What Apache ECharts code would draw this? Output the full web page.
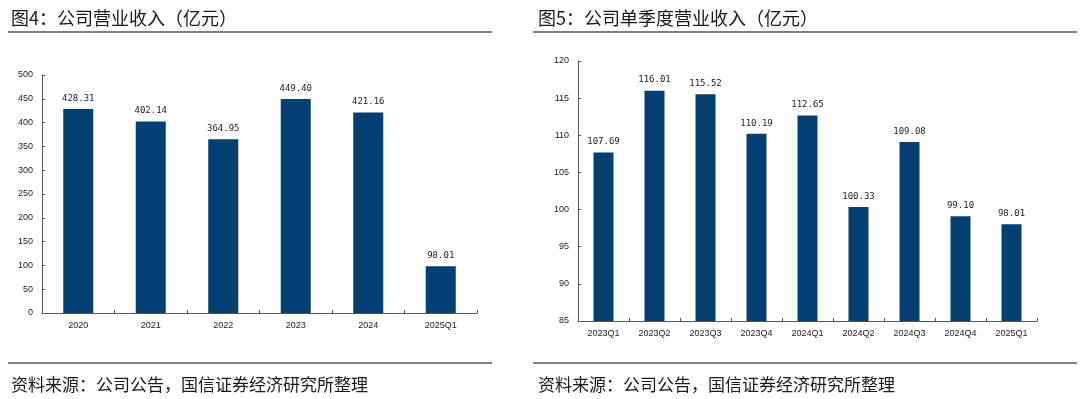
<!DOCTYPE html>
<html>
<head>
<meta charset="utf-8">
<script src="https://cdn.jsdelivr.net/npm/echarts@6/dist/echarts.min.js"></script>
<style>
  html, body { margin: 0; padding: 0; background: #fff; }
  #main { width: 1080px; height: 399px; }
</style>
</head>
<body>
<div id="main"></div>
<script>
var yearCats = ['2020', '2021', '2022', '2023', '2024', '2025Q1'];
var yearRevenue = [428.31, 402.14, 364.95, 449.40, 421.16, 98.01];

var quarterCats = ['2023Q1', '2023Q2', '2023Q3', '2023Q4', '2024Q1', '2024Q2', '2024Q3', '2024Q4', '2025Q1'];
var quarterRevenue = [107.69, 116.01, 115.52, 110.19, 112.65, 100.33, 109.08, 99.10, 98.01];

var barColor = '#023F73';
var cjk = '"Noto Sans CJK SC", "Noto Sans", sans-serif';

var myChart = echarts.init(document.getElementById('main'));

function xAxisFor(idx, cats) {
    return {
        type: 'category',
        gridIndex: idx,
        data: cats,
        axisLine: { lineStyle: { color: '#555', width: 1 } },
        axisTick: { show: true, inside: true, length: 3, lineStyle: { color: '#555' } },
        axisLabel: { color: '#222', fontSize: 9, fontFamily: 'Liberation Sans, Arial', margin: 8 }
    };
}

function yAxisFor(idx, min, max, interval) {
    return {
        type: 'value',
        gridIndex: idx,
        min: min,
        max: max,
        interval: interval,
        splitLine: { show: false },
        axisLine: { show: true, lineStyle: { color: '#555', width: 1 } },
        axisTick: { show: true, inside: true, length: 3, lineStyle: { color: '#555' } },
        axisLabel: { color: '#222', fontSize: 9, fontFamily: 'Liberation Sans, Arial', margin: 9 }
    };
}

function barSeries(idx, data, width) {
    return {
        type: 'bar',
        xAxisIndex: idx,
        yAxisIndex: idx,
        data: data,
        barWidth: width,
        itemStyle: { color: barColor },
        label: {
            show: true,
            position: 'top',
            distance: 6,
            color: '#222',
            fontSize: 9,
            fontFamily: 'DejaVu Sans Mono, monospace',
            formatter: function (p) { return p.value.toFixed(2); }
        }
    };
}

var option = {
    animation: false,
    title: [
        { text: '图4：公司营业收入（亿元）', left: 6, top: 4,
          textStyle: { fontFamily: cjk, fontSize: 18, fontWeight: 'normal', color: '#1a1a1a' } },
        { text: '图5：公司单季度营业收入（亿元）', left: 533, top: 4,
          textStyle: { fontFamily: cjk, fontSize: 18, fontWeight: 'normal', color: '#1a1a1a' } },
        { text: '资料来源：公司公告，国信证券经济研究所整理', left: 6, top: 371,
          textStyle: { fontFamily: cjk, fontSize: 17, fontWeight: 'normal', color: '#1a1a1a' } },
        { text: '资料来源：公司公告，国信证券经济研究所整理', left: 533, top: 371,
          textStyle: { fontFamily: cjk, fontSize: 17, fontWeight: 'normal', color: '#1a1a1a' } }
    ],
    graphic: [
        { type: 'rect', shape: { x: 8, y: 31, width: 484, height: 2 }, style: { fill: '#7f7f7f' } },
        { type: 'rect', shape: { x: 533, y: 31, width: 544, height: 2 }, style: { fill: '#7f7f7f' } },
        { type: 'rect', shape: { x: 8, y: 362, width: 484, height: 2 }, style: { fill: '#7f7f7f' } },
        { type: 'rect', shape: { x: 533, y: 362, width: 544, height: 2 }, style: { fill: '#7f7f7f' } }
    ],
    grid: [
        { left: 42, right: 603, top: 75, bottom: 86 },
        { left: 578, right: 43, top: 61, bottom: 78 }
    ],
    xAxis: [xAxisFor(0, yearCats), xAxisFor(1, quarterCats)],
    yAxis: [yAxisFor(0, 0, 500, 50), yAxisFor(1, 85, 120, 5)],
    series: [barSeries(0, yearRevenue, 30), barSeries(1, quarterRevenue, 20)]
};
myChart.setOption(option);
</script>
</body>
</html>
